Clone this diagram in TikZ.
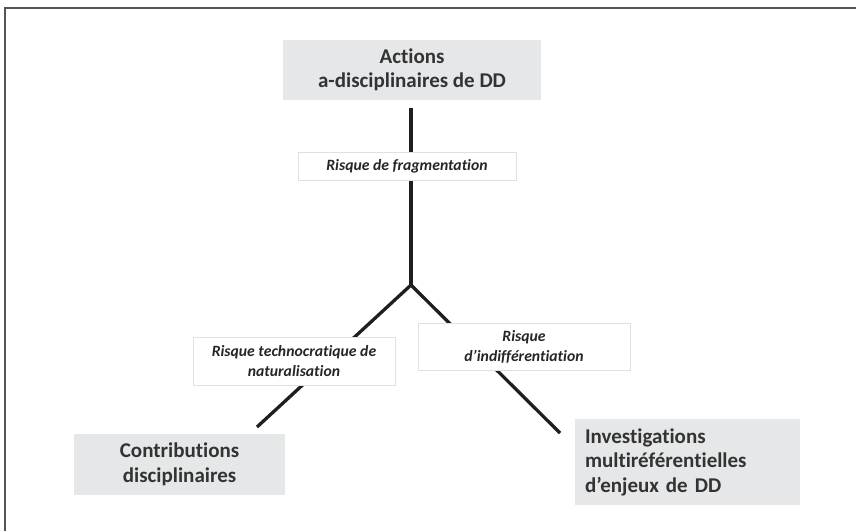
\documentclass[tikz,border=0pt]{standalone}
\usepackage{fontspec}
\setmainfont{Carlito}[Ligatures=NoCommon]
\usepackage{tikz}
\usetikzlibrary{backgrounds}
\definecolor{boxgray}{HTML}{E6E7E8}
\definecolor{framegray}{HTML}{555555}
\definecolor{textgray}{HTML}{333333}
\tikzset{% 
  main box/.style={%
    fill=boxgray,
    text=textgray,
    inner sep=0pt,
    font=\fontsize{21}{24.5}\selectfont\bfseries
  }
}
\tikzset{% 
  risk label/.style={%
    fill=white,
    draw=black!12,
    line width=0.6pt,
    inner sep=0pt,
    align=center,
    text=black!85,
    font=\fontsize{15.7}{20}\selectfont\bfseries\itshape
  }
}
\tikzset{% 
  branch/.style={%
    line width=3.3pt,
    color=black!88
  }
}

\begin{document}
\begin{tikzpicture}[x=1pt,y=-1pt]
  \useasboundingbox (0,0) rectangle (856,531);
  \draw [framegray, line width=2pt] (856,8) -- (5,8) -- (5,531);
  \node (act) [main box, minimum width=258pt, minimum height=60pt, align=center] at (412,70) {Actions\\a-disciplinaires de DD};
  \node (frag) [risk label, minimum width=218pt, minimum height=28pt] at (407,166) {Risque de fragmentation};
  \node (techno) [risk label, minimum width=202pt, minimum height=48pt] at (294,361) {Risque technocratique de\\naturalisation};
  \node (indiff) [risk label, minimum width=212pt, minimum height=47pt] at (524,346.5) {Risque\\d’indifférentiation};
  \node (contrib) [main box, minimum width=211pt, minimum height=61pt, align=center] at (179.5,464.5) {Contributions\\disciplinaires};
  \node (invest) [main box, minimum width=225pt, minimum height=86pt, text width=205pt, align=left] at (687.5,462) {Investigations\\multiréférentielles\\d’enjeux de DD};
  \coordinate (j) at (411,285);
  \coordinate (lend) at (257,427);
  \coordinate (rend) at (560,433);
  \begin{scope}[on background layer]
    \draw [branch, shorten <=8pt] (act.south -| j) -- (j);
    \draw [branch] (j) -- (lend);
    \draw [branch] (j) -- (rend);
  \end{scope}
\end{tikzpicture}
\end{document}
